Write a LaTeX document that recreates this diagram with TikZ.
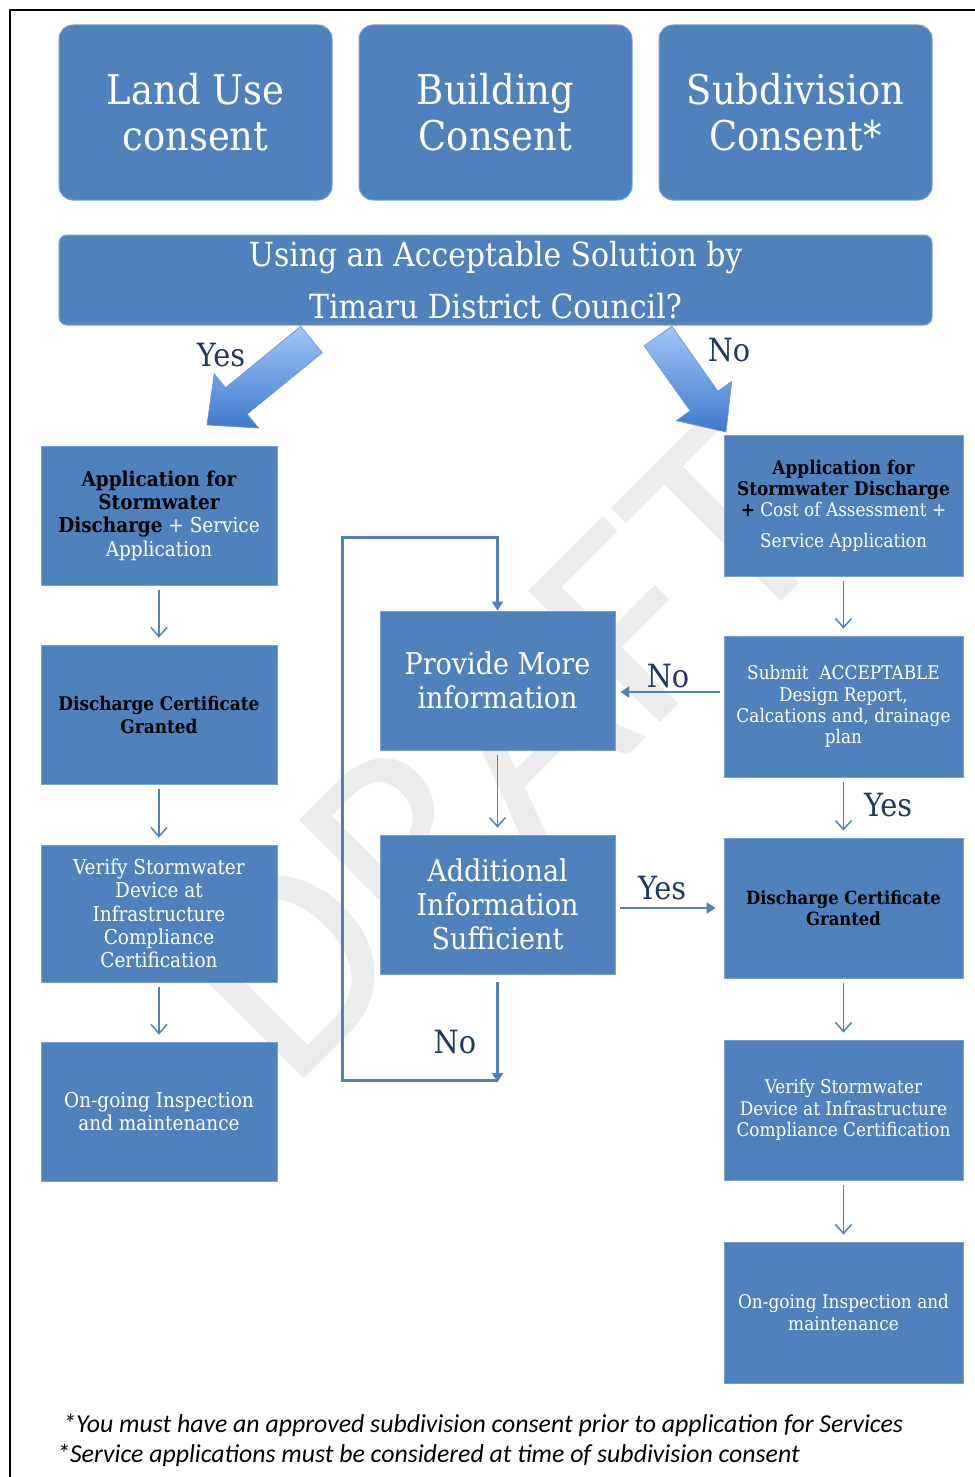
\documentclass[tikz,border=0pt]{standalone}
\usepackage{fontspec}
\setmainfont{DejaVu Serif Condensed}
\newfontfamily\footfont{Carlito}
\newfontfamily\wmfont{Carlito}
\usetikzlibrary{arrows.meta,calc}
\definecolor{boxblue}{RGB}{79,129,189}
\definecolor{boxedge}{RGB}{120,160,210}
\definecolor{lblnavy}{RGB}{31,56,96}
\definecolor{wmgray}{RGB}{236,236,236}
\definecolor{arrlight}{RGB}{160,198,248}
\definecolor{arrdark}{RGB}{62,121,204}
\newcommand{\blk}[1]{{\color{black}\bfseries #1}}
\tikzset{
  topbox/.style={rounded corners=14pt, fill=boxblue, draw=boxedge, line width=1pt,
    text=white, align=center, inner sep=0pt, minimum width=273pt, minimum height=175pt,
    font=\fontsize{41}{46}\selectfont},
  widebox/.style={rounded corners=8pt, fill=boxblue, draw=boxedge, line width=1pt,
    text=white, align=center, inner sep=0pt, minimum width=873pt, minimum height=90pt,
    font=\fontsize{33.2}{52}\selectfont},
  flowbox/.style={rectangle, fill=boxblue, draw=boxedge, line width=0.8pt,
    text=white, align=center, inner sep=0pt},
  leftbox/.style={flowbox, minimum width=236pt, minimum height=139pt,
    font=\fontsize{20.5}{23.3}\selectfont},
  rightbox/.style={flowbox, minimum width=239pt, minimum height=141pt,
    font=\fontsize{18.8}{21.3}\selectfont},
  midbox/.style={flowbox, minimum width=235pt, minimum height=139pt,
    font=\fontsize{30}{34}\selectfont},
  thinarrow/.style={draw=boxblue, line width=1.5pt,
    -{Straight Barb[length=9pt,width=16pt,line width=1.5pt]},
    shorten <=5pt, shorten >=7pt},
  thickconn/.style={draw=boxblue, line width=3pt, line join=miter},
  tiptri/.style={-{Triangle[length=9pt,width=11pt]}},
  lbl/.style={text=lblnavy, inner sep=0pt, font=\fontsize{32}{36}\selectfont},
  blockarrow/.style={top color=arrlight, bottom color=arrdark, draw=arrdark!80!white, line width=0.6pt},
  footnote/.style={anchor=west, inner sep=0pt, font=\footfont\itshape\fontsize{25.8}{28}\selectfont},
}
\begin{document}
\begin{tikzpicture}[x=1pt,y=-1pt]
\useasboundingbox (0,0) rectangle (974,1477);
\fill[white] (0,0) rectangle (974,1477);

% watermark
\node[rotate=45, text=wmgray, inner sep=0pt, font=\wmfont\fontsize{290}{290}\selectfont] (wm) at (500,752) {DRAFT};

% frame
\draw[line width=2pt] (10,1480) -- (10,10) -- (980,10);

% block arrows
\path[blockarrow] (300.7,326.3) -- (225.6,387.7) -- (214.2,373.8) -- (207,425)
  -- (258.6,428.0) -- (247.2,414.1) -- (322.3,352.7) -- cycle;
\path[blockarrow] (644.1,345.8) -- (690.1,410.8) -- (676.3,420.7) -- (726,432)
  -- (731.7,381.3) -- (717.9,391.2) -- (671.9,326.2) -- cycle;

% top boxes
\node[topbox] (land) at (195.5,112.5) {Land Use\\consent};
\node[topbox] (build) at (495.5,112.5) {Building\\Consent};
\node[topbox] (subd) at (795.5,112.5) {Subdivision\\Consent*};
\node[widebox] (q) at (495.5,280) {Using an Acceptable Solution by\\Timaru District Council?};

% left column
\node[leftbox] (L1) at (159,515.5) {\blk{Application for}\\\blk{Stormwater}\\\blk{Discharge} + Service\\Application};
\node[leftbox, font=\fontsize{18.8}{23}\selectfont] (L2) at (159,714.5) {\blk{Discharge Certificate}\\\blk{Granted}};
\node[leftbox, minimum height=137pt] (L3) at (159,913.5) {Verify Stormwater\\Device at\\Infrastructure\\Compliance\\Certification};
\node[leftbox] (L4) at (159,1111.5) {On-going Inspection\\and maintenance};

% right column
\node[rightbox] (R1) at (843.5,505.5) {\blk{Application for}\\\blk{Stormwater Discharge}\\\blk{+} Cost of Assessment +\\[9pt]Service Application};
\node[rightbox] (R2) at (843.5,706.5) {Submit\ \ ACCEPTABLE\\Design Report,\\Calcations and, drainage\\plan};
\node[rightbox, minimum height=140pt, font=\fontsize{18.2}{21}\selectfont] (R3) at (843.5,908) {\blk{Discharge Certificate}\\\blk{Granted}};
\node[rightbox, minimum height=140pt] (R4) at (843.5,1110) {Verify Stormwater\\Device at Infrastructure\\Compliance Certification};
\node[rightbox] (R5) at (843.5,1312.5) {On-going Inspection and\\maintenance};

% middle column
\node[midbox] (M1) at (497.5,680.5) {Provide More\\information};
\node[midbox] (M2) at (497.5,904.5) {Additional\\Information\\Sufficient};

% thin arrows
\draw[thinarrow] (L1) -- (L2);
\draw[thinarrow] (L2) -- (L3);
\draw[thinarrow] (L3) -- (L4);
\draw[thinarrow] (R1) -- (R2);
\draw[thinarrow] (R2) -- (R3);
\draw[thinarrow] (R3) -- (R4);
\draw[thinarrow] (R4) -- (R5);
\draw[thinarrow] (M1) -- (M2);

% loop and side connectors
\coordinate (loopA) at (497.5,1082);
\coordinate (loopB) at (342,1080);
\coordinate (loopC) at (342,537);
\coordinate (loopD) at (497.5,537);
\coordinate (noy) at (0,692);
\coordinate (yesy) at (0,908);
\draw[thickconn, tiptri, shorten <=8pt] (M2.south) -- (loopA);
\draw[thickconn, tiptri] (497.5,1080) -- (loopB) -- (loopC) -- (loopD) -- (M1.north);
\draw[thickconn, line width=2.6pt, tiptri, shorten <=4pt, shorten >=5pt] (R2.west |- noy) -- (M1.east |- noy);
\draw[thickconn, line width=2.6pt, tiptri, shorten <=5pt, shorten >=8pt] (M2.east |- yesy) -- (R3.west |- yesy);

% labels
\node[lbl] (lyes1) at (221,355) {Yes};
\node[lbl] (lno1) at (729,350) {No};
\node[lbl] (lno2) at (668,676) {No};
\node[lbl] (lyes2) at (662,888) {Yes};
\node[lbl] (lno3) at (455,1042) {No};
\node[lbl] (lyes3) at (888,805) {Yes};

% footer
\node[footnote] (f1) at (63,1425) {*You must have an approved subdivision consent prior to application for Services};
\node[footnote] (f2) at (57,1455) {*Service applications must be considered at time of subdivision consent};
\end{tikzpicture}
\end{document}
